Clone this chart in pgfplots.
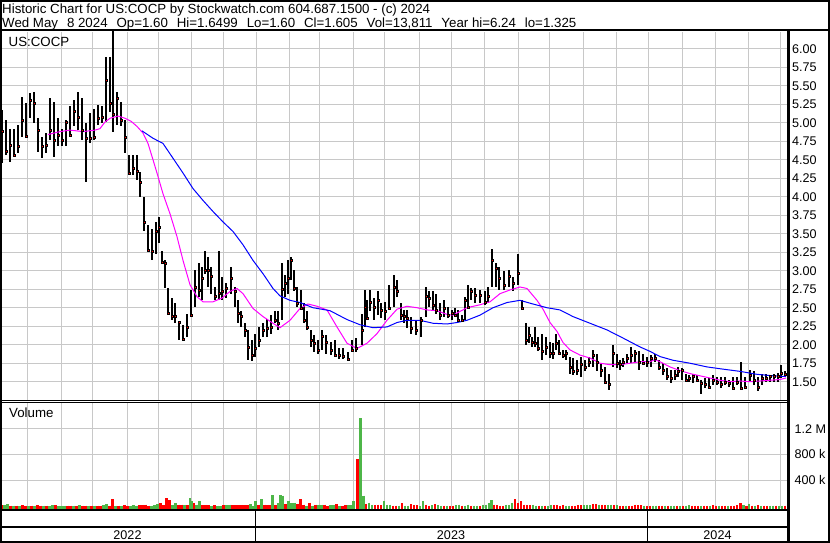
\documentclass[border=0pt]{standalone}
\usepackage{pgfplots}
\pgfplotsset{compat=1.18}
\usepackage{pgfplotstable}
\usepackage{fontspec}
\setmainfont{Liberation Sans}

\definecolor{gridgray}{RGB}{200,200,200}
\definecolor{volred}{RGB}{255,0,0}
\definecolor{volgreen}{RGB}{77,182,72}
\definecolor{maline}{RGB}{255,0,255}
\definecolor{blueline}{RGB}{0,0,255}

% daily bars: x (pixel column), high, low, close
\pgfplotstableread[row sep=\\]{
x h l c\\
2 5.17 4.45 4.88\\ 6 5.04 4.56 4.61\\ 10 4.92 4.47 4.70\\ 14 4.92 4.54 4.56\\
18 4.97 4.59 4.68\\ 22 5.35 4.81 5.04\\ 26 5.26 4.79 4.82\\ 30 5.40 5.06 5.31\\
34 5.42 4.99 5.27\\ 38 5.06 4.61 4.90\\ 42 4.81 4.52 4.68\\ 46 4.86 4.59 4.70\\
50 5.33 4.77 4.90\\ 54 5.28 4.54 4.77\\ 58 5.06 4.68 4.83\\ 62 4.92 4.68 4.77\\
66 5.04 4.68 5.01\\ 70 5.22 4.81 4.83\\ 74 5.31 4.95 5.16\\ 78 5.42 4.90 5.07\\
82 5.33 4.77 4.90\\ 86 4.99 4.20 4.79\\ 90 5.13 4.72 4.79\\ 94 5.19 4.77 4.81\\
98 5.24 4.97 5.06\\ 102 5.22 4.99 5.08\\ 106 5.89 5.01 5.57\\ 110 5.89 5.15 5.26\\
113 6.24 4.88 5.12\\ 117 5.42 4.97 5.33\\ 121 5.28 4.95 5.04\\ 125 5.04 4.59 4.81\\
129 4.56 4.29 4.32\\ 133 4.56 4.29 4.38\\ 137 4.56 4.22 4.35\\ 140 4.34 4.00 4.20\\
144 4.00 3.53 3.66\\ 148 3.62 3.26 3.28\\ 152 3.57 3.14 3.26\\ 156 3.66 3.23 3.54\\
159 3.73 3.37 3.59\\ 162 3.26 3.10 3.12\\ 165 3.14 2.76 3.10\\ 168 2.76 2.42 2.43\\
172 2.63 2.33 2.38\\ 175 2.56 2.29 2.38\\ 179 2.31 2.06 2.30\\ 183 2.27 2.06 2.08\\
187 2.42 2.11 2.24\\ 191 2.74 2.40 2.40\\ 195 3.01 2.51 2.78\\ 199 3.10 2.65 2.74\\
202 3.05 2.60 2.90\\ 205 3.26 2.96 3.01\\ 208 3.19 2.78 3.01\\ 211 3.05 2.69 2.92\\
215 2.78 2.60 2.65\\ 219 3.26 2.60 2.69\\ 222 2.92 2.60 2.72\\ 226 2.83 2.63 2.76\\
231 3.05 2.69 2.90\\ 235 2.78 2.51 2.72\\ 238 2.60 2.29 2.42\\ 241 2.45 2.24 2.38\\
245 2.29 2.11 2.20\\ 248 2.20 1.80 1.97\\ 252 2.06 1.78 1.86\\ 255 2.15 1.84 1.95\\
259 2.24 1.97 2.06\\ 263 2.29 2.11 2.20\\ 267 2.35 2.10 2.22\\ 271 2.40 2.15 2.24\\
275 2.45 2.29 2.33\\ 278 2.45 2.20 2.29\\ 282 3.10 2.33 2.75\\ 285 2.94 2.65 2.83\\
288 3.14 2.69 2.90\\ 291 3.19 2.87 3.14\\ 294 3.01 2.72 2.76\\ 297 2.78 2.51 2.56\\
301 2.74 2.47 2.49\\ 304 2.56 2.29 2.33\\ 307 2.45 2.20 2.23\\ 311 2.20 1.97 2.06\\
314 2.13 1.90 2.02\\ 318 2.06 1.88 1.93\\ 322 2.20 1.93 2.11\\ 326 2.13 1.88 2.04\\
331 2.04 1.86 1.93\\ 335 2.06 1.84 1.86\\ 339 1.95 1.81 1.86\\ 343 1.95 1.81 1.85\\
348 1.90 1.79 1.81\\ 352 2.06 1.90 1.93\\ 356 2.09 1.90 1.95\\ 362 2.42 1.99 2.20\\
365 2.74 2.24 2.51\\ 367 2.60 2.33 2.36\\ 370 2.74 2.45 2.58\\ 374 2.63 2.33 2.51\\
378 2.72 2.40 2.60\\ 381 2.56 2.36 2.47\\ 385 2.58 2.33 2.45\\ 389 2.81 2.47 2.49\\
394 2.94 2.51 2.78\\ 397 2.87 2.65 2.72\\ 401 2.56 2.33 2.40\\ 404 2.47 2.29 2.38\\
407 2.47 2.22 2.36\\ 411 2.38 2.15 2.22\\ 416 2.33 2.13 2.20\\ 421 2.38 2.11 2.33\\
426 2.78 2.38 2.65\\ 429 2.72 2.51 2.63\\ 433 2.72 2.47 2.54\\ 436 2.69 2.42 2.47\\
440 2.56 2.33 2.40\\ 444 2.60 2.38 2.49\\ 448 2.51 2.36 2.40\\ 452 2.47 2.33 2.42\\
455 2.49 2.38 2.40\\ 458 2.47 2.31 2.33\\ 462 2.40 2.31 2.33\\ 465 2.65 2.33 2.60\\
468 2.81 2.51 2.51\\ 471 2.76 2.60 2.72\\ 475 2.76 2.56 2.67\\ 480 2.74 2.56 2.67\\
485 2.72 2.54 2.58\\ 488 2.78 2.56 2.65\\ 492 3.30 2.78 3.14\\ 496 3.10 2.78 3.03\\
499 3.05 2.74 2.90\\ 504 2.99 2.74 2.81\\ 509 3.01 2.78 2.92\\ 513 2.92 2.72 2.83\\
518 3.23 2.81 2.96\\ 522 2.60 2.47 2.49\\ 526 2.29 1.99 2.06\\ 529 2.24 2.02 2.13\\
532 2.11 1.97 2.04\\ 535 2.24 1.97 2.02\\ 538 2.11 1.91 1.95\\ 542 2.15 1.79 1.91\\
546 2.11 1.86 1.97\\ 550 2.04 1.82 1.88\\ 553 2.02 1.81 1.88\\ 556 2.15 1.93 2.02\\
559 2.06 1.86 1.88\\ 563 1.93 1.82 1.86\\ 566 1.93 1.79 1.88\\ 570 1.84 1.61 1.70\\
573 1.82 1.59 1.64\\ 577 1.79 1.59 1.66\\ 581 1.84 1.57 1.73\\ 585 1.79 1.64 1.70\\
589 1.84 1.70 1.77\\ 593 1.93 1.70 1.86\\ 597 1.88 1.64 1.77\\ 601 1.75 1.57 1.66\\
605 1.70 1.48 1.50\\ 609 1.61 1.39 1.46\\ 613 1.99 1.70 1.88\\ 617 1.88 1.68 1.75\\
620 1.79 1.66 1.73\\ 623 1.82 1.70 1.77\\ 627 1.88 1.75 1.82\\ 631 1.97 1.75 1.86\\
635 1.93 1.77 1.88\\ 639 1.91 1.66 1.77\\ 643 1.88 1.73 1.75\\ 647 1.84 1.70 1.77\\
651 1.86 1.70 1.82\\ 655 1.88 1.77 1.82\\ 659 1.79 1.66 1.70\\ 663 1.75 1.59 1.66\\
667 1.68 1.52 1.57\\ 671 1.66 1.48 1.55\\ 675 1.66 1.52 1.59\\ 678 1.70 1.57 1.64\\
682 1.68 1.52 1.66\\ 686 1.61 1.50 1.52\\ 689 1.59 1.50 1.55\\ 693 1.61 1.48 1.57\\
697 1.59 1.50 1.52\\ 701 1.52 1.34 1.48\\ 705 1.55 1.41 1.46\\ 709 1.55 1.41 1.43\\
713 1.59 1.46 1.52\\ 717 1.57 1.46 1.50\\ 721 1.57 1.41 1.46\\ 725 1.57 1.46 1.50\\
729 1.52 1.43 1.48\\ 733 1.57 1.41 1.41\\ 737 1.57 1.46 1.50\\ 741 1.76 1.39 1.41\\
745 1.57 1.43 1.43\\ 750 1.66 1.50 1.59\\ 754 1.64 1.46 1.52\\ 758 1.57 1.37 1.43\\
762 1.60 1.45 1.55\\ 766 1.61 1.50 1.55\\ 770 1.59 1.50 1.57\\ 774 1.61 1.50 1.57\\
778 1.62 1.50 1.58\\ 781 1.73 1.55 1.62\\ 785 1.65 1.58 1.605\\
}\price

\pgfplotstableread[row sep=\\]{
x v\\
1.5 10\\ 10.5 5\\ 16.5 5\\ 22.5 6\\ 25.5 3\\ 31.5 3\\ 37.5 8\\ 40.5 5\\ 46.5 2\\ 55.5 6\\
67.5 2\\ 70.5 5\\ 76.5 3\\ 82.5 5\\ 85.5 2\\ 91.5 3\\ 97.5 4\\ 100.5 2\\ 109.5 5\\ 112.5 105\\
118.5 3\\ 124.5 15\\ 127.5 4\\ 139.5 10\\ 142.5 15\\ 145.5 20\\ 148.5 5\\ 160.5 45\\ 163.5 10\\
166.5 120\\ 169.5 90\\ 178.5 20\\ 181.5 20\\ 187.5 8\\ 193.5 38\\ 202.5 12\\ 205.5 15\\ 208.5 10\\
214.5 8\\ 223.5 15\\ 232.5 10\\ 235.5 12\\ 238.5 8\\ 241.5 15\\ 244.5 12\\ 247.5 15\\ 258.5 20\\
264.5 20\\ 267.5 15\\ 270.5 12\\ 275.5 10\\ 285.5 30\\ 297.5 30\\ 300.5 105\\ 303.5 20\\ 309.5 50\\
315.5 20\\ 324.5 20\\ 327.5 5\\ 336.5 22\\ 342.5 3\\ 345.5 10\\ 357.5 725\\ 366 30\\ 375 10\\
378 20\\ 381 10\\ 393 5\\ 396 5\\ 402 43\\ 411 22\\ 414 10\\ 417 10\\ 426 20\\ 429 5\\ 435 22\\
444 3\\ 450 3\\ 453 5\\ 462 5\\ 471 3\\ 480 3\\ 494 20\\ 497 10\\ 500 5\\ 503 5\\ 515 105\\
518 50\\ 521 75\\ 524 20\\ 527 15\\ 530 10\\ 539 5\\ 545 3\\ 554 8\\ 557 8\\ 560 3\\ 563 15\\
572 3\\ 575 3\\ 578 8\\ 581 10\\ 593 30\\ 596 30\\ 602 20\\ 605 15\\ 614 10\\ 620 3\\ 623 5\\
629 3\\ 632 5\\ 635 20\\ 638 8\\ 641 8\\ 647 5\\ 650 3\\ 659 5\\ 662 3\\ 668 5\\ 677 3\\ 683 5\\
692 5\\ 695 5\\ 698 5\\ 704 5\\ 707 5\\ 713 8\\ 716 5\\ 722 3\\ 725 5\\ 731 5\\ 734 3\\ 737 8\\
740.5 43\\ 746.5 5\\ 752 5\\ 758 8\\ 764 5\\ 767 5\\ 776 5\\ 785 5\\
}\volred

\pgfplotstableread[row sep=\\]{
x v\\
4.5 12\\ 7.5 30\\ 13.5 5\\ 19.5 5\\ 28.5 3\\ 34.5 2\\ 43.5 3\\ 49.5 5\\ 52.5 6\\ 58.5 3\\
61.5 0\\ 64.5 0\\ 73.5 4\\ 79.5 6\\ 88.5 2\\ 94.5 5\\ 103.5 8\\ 106.5 30\\ 115.5 4\\ 121.5 2\\
130.5 5\\ 133.5 8\\ 136.5 3\\ 151.5 4\\ 154.5 10\\ 157.5 35\\ 172.5 15\\ 175.5 38\\ 184.5 15\\
190 121\\ 192 74\\ 196.5 20\\ 199.5 70\\ 211.5 5\\ 217.5 3\\ 220.5 5\\ 226.5 6\\ 229.5 20\\
250.5 22\\ 253.5 5\\ 255.5 74\\ 261.5 100\\ 272.5 167\\ 278.5 45\\ 280.5 167\\ 282.5 157\\
288.5 75\\ 291.5 40\\ 294.5 50\\ 306.5 5\\ 312.5 5\\ 318.5 20\\ 321.5 20\\ 330.5 8\\ 333.5 12\\
339.5 5\\ 348.5 10\\ 351.5 20\\ 353.5 75\\ 360.5 1360\\ 363.5 157\\ 369 50\\ 372 20\\ 384 75\\
387 20\\ 390 20\\ 399 5\\ 405 5\\ 408 5\\ 420 5\\ 423 75\\ 432 10\\ 438 10\\ 441 5\\ 447 3\\
456 10\\ 459 20\\ 465 5\\ 468 20\\ 474 3\\ 477 5\\ 483 20\\ 486 20\\ 489 45\\ 491.5 90\\ 506 20\\
509 10\\ 512 45\\ 533 15\\ 536 3\\ 542 3\\ 548 3\\ 551 15\\ 566 3\\ 569 3\\ 584 8\\ 587 20\\
590 10\\ 599 20\\ 608 15\\ 611 20\\ 617 10\\ 626 5\\ 644 5\\ 653 3\\ 656 5\\ 665 3\\ 671 3\\
674 3\\ 680 3\\ 686 3\\ 689 10\\ 701 3\\ 710 3\\ 719 3\\ 728 3\\ 743.5 12\\ 749 35\\ 755 5\\
761 5\\ 770 5\\ 773 5\\ 779 5\\ 782 5\\
}\volgreen

\newcommand{\tickfont}{\fontsize{12.6}{14}\selectfont}
\newcommand{\txtfont}{\fontsize{13.3}{15}\selectfont}
\newcommand{\gap}{\hspace{8.9pt}}

\pgfplotsset{
  panel/.style={
    anchor=south west, scale only axis, width=787pt,
    xmin=0, xmax=787,
    axis line style={draw=none},
    xtick={27,61,92,127,158,191,223,256,289,319,353,384,419,451,484,518,549,583,616,648,682,715,748,780},
    xticklabels={},
    xticklabel style={text opacity=0},
    yticklabel pos=right,
    major tick length=0pt,
    grid=major,
    major grid style={draw=gridgray, line width=1pt},
    yticklabel style={anchor=west, inner sep=0pt, font=\tickfont},
  },
}

\begin{document}
\begin{tikzpicture}
\useasboundingbox (0pt,0pt) rectangle (830pt,543pt);
\fill[white] (0pt,0pt) rectangle (830pt,543pt);

% price panel
\begin{axis}[panel, at={(0pt,143pt)}, height=368pt,
  ymin=1.253, ymax=6.226,
  ytick={1.5,1.75,2,2.25,2.5,2.75,3,3.25,3.5,3.75,4,4.25,4.5,4.75,5,5.25,5.5,5.75,6},
  yticklabels={1.50,1.75,2.00,2.25,2.50,2.75,3.00,3.25,3.50,3.75,4.00,4.25,4.50,4.75,5.00,5.25,5.50,5.75,6.00},
  yticklabel style={xshift=5pt},
]
\addplot[draw=none, mark=none,
  error bars/.cd, y dir=both, y explicit, error mark=none,
  error bar style={draw=black, line width=2.8pt}]
  table[x=x, y=c, y error plus expr=\thisrow{h}-\thisrow{c}, y error minus expr=\thisrow{c}-\thisrow{l}] {\price};
\addplot[only marks, mark=square*, mark size=1pt, mark options={draw=none, fill=red}]
  table[x=x, y=c] {\price};
% moving averages
\addplot[maline, line width=1pt] coordinates {
(48,4.84) (60,4.88) (70,4.90) (83,4.88) (95,4.90) (100,4.92) (105,5.01) (110,5.06)
(118,5.09) (125,5.06) (131,5.02) (137,4.95) (143,4.86) (148,4.72) (153,4.50) (157,4.32)
(163,4.04) (170,3.77) (177,3.46) (183,3.14) (190,2.81) (197,2.65) (203,2.58) (213,2.58)
(222,2.63) (230,2.72) (237,2.76) (243,2.69) (253,2.49) (263,2.38) (273,2.29) (280,2.23)
(290,2.33) (300,2.49) (308,2.55) (317,2.52) (327,2.47) (337,2.24) (347,2.02) (357,1.95)
(367,2.02) (377,2.15) (387,2.33) (397,2.48) (407,2.52) (417,2.50) (427,2.47) (437,2.46)
(447,2.41) (453,2.40) (467,2.50) (480,2.54) (490,2.58) (500,2.69) (510,2.74) (520,2.78)
(527,2.76) (537,2.60) (543,2.48) (550,2.30) (557,2.18) (563,2.03) (570,1.93) (580,1.86)
(590,1.82) (600,1.75) (610,1.73) (620,1.73) (630,1.75) (640,1.77) (650,1.77) (655,1.80)
(660,1.77) (670,1.70) (680,1.65) (690,1.61) (700,1.58) (710,1.55) (720,1.52) (730,1.50)
(740,1.51) (750,1.50) (760,1.51) (770,1.52) (780,1.53) (786,1.55)
};
\addplot[blueline, line width=1pt] coordinates {
(142,4.89) (153,4.79) (163,4.72) (173,4.52) (183,4.32) (193,4.11) (203,3.95) (213,3.80)
(223,3.66) (233,3.53) (243,3.35) (253,3.14) (263,2.96) (273,2.76) (280,2.66) (290,2.60)
(300,2.57) (313,2.50) (330,2.46) (347,2.34) (360,2.27) (373,2.23) (387,2.24) (397,2.30)
(407,2.33) (420,2.33) (433,2.29) (447,2.28) (457,2.30) (467,2.33) (480,2.40) (493,2.50)
(507,2.57) (520,2.60) (533,2.55) (547,2.50) (560,2.47) (573,2.38) (590,2.29) (607,2.20)
(623,2.09) (640,1.97) (650,1.91) (660,1.84) (673,1.79) (690,1.75) (707,1.70) (723,1.67)
(740,1.64) (757,1.60) (773,1.58) (786,1.57)
};
\end{axis}

% volume panel
\begin{axis}[panel, at={(0pt,34.6pt)}, height=105.9pt,
  ymin=-40, ymax=1609,
  ytick={400,800,1200}, yticklabels={400 k,800 k,1.2 M},
  yticklabel style={xshift=7.5pt},
]
\addplot[draw=none, mark=none,
  error bars/.cd, y dir=minus, y fixed=5000, error mark=none,
  error bar style={draw=volred, line width=2.3pt}]
  table[x=x, y=v] {\volred};
\addplot[draw=none, mark=none,
  error bars/.cd, y dir=minus, y fixed=5000, error mark=none,
  error bar style={draw=volgreen, line width=2.3pt}]
  table[x=x, y=v] {\volgreen};
\end{axis}

% frame and separators
\draw[line width=2pt] (0pt,512.5pt) -- (830pt,512.5pt);
\draw[line width=3pt] (788.5pt,512.5pt) -- (788.5pt,0pt);
\draw[line width=1pt] (0pt,142.5pt) -- (788.5pt,142.5pt);
\draw[line width=1pt] (0pt,140.5pt) -- (788.5pt,140.5pt);
\draw[line width=2pt] (0pt,33pt) -- (788.5pt,33pt);
\draw[line width=2pt] (0pt,16pt) -- (788.5pt,16pt);
\draw[line width=1.5pt] (255.5pt,33pt) -- (255.5pt,0pt);
\draw[line width=1.5pt] (647.5pt,33pt) -- (647.5pt,0pt);
\draw[line width=2pt] (1pt,1pt) rectangle (829pt,542pt);

% texts
\node[anchor=base west, inner sep=0pt, font=\txtfont] at (2pt,529.7pt)
  {Historic Chart for US:COCP by Stockwatch.com 604.687.1500 - (c) 2024};
\node[anchor=base west, inner sep=0pt, font=\txtfont] at (2pt,515.3pt)
  {Wed May\gap 8 2024\gap Op=1.60\gap Hi=1.6499\gap Lo=1.60\gap Cl=1.605\gap Vol=13,811\gap Year hi=6.24\gap lo=1.325};
\node[anchor=base west, inner sep=0pt, font=\txtfont] at (8.5pt,496.3pt) {US:COCP};
\node[anchor=base west, inner sep=0pt, font=\txtfont] at (9pt,125pt) {Volume};
\node[anchor=base, inner sep=0pt, font=\tickfont] at (127.5pt,3.5pt) {2022};
\node[anchor=base, inner sep=0pt, font=\tickfont] at (451pt,3.5pt) {2023};
\node[anchor=base, inner sep=0pt, font=\tickfont] at (717.5pt,3.5pt) {2024};
\end{tikzpicture}
\end{document}
